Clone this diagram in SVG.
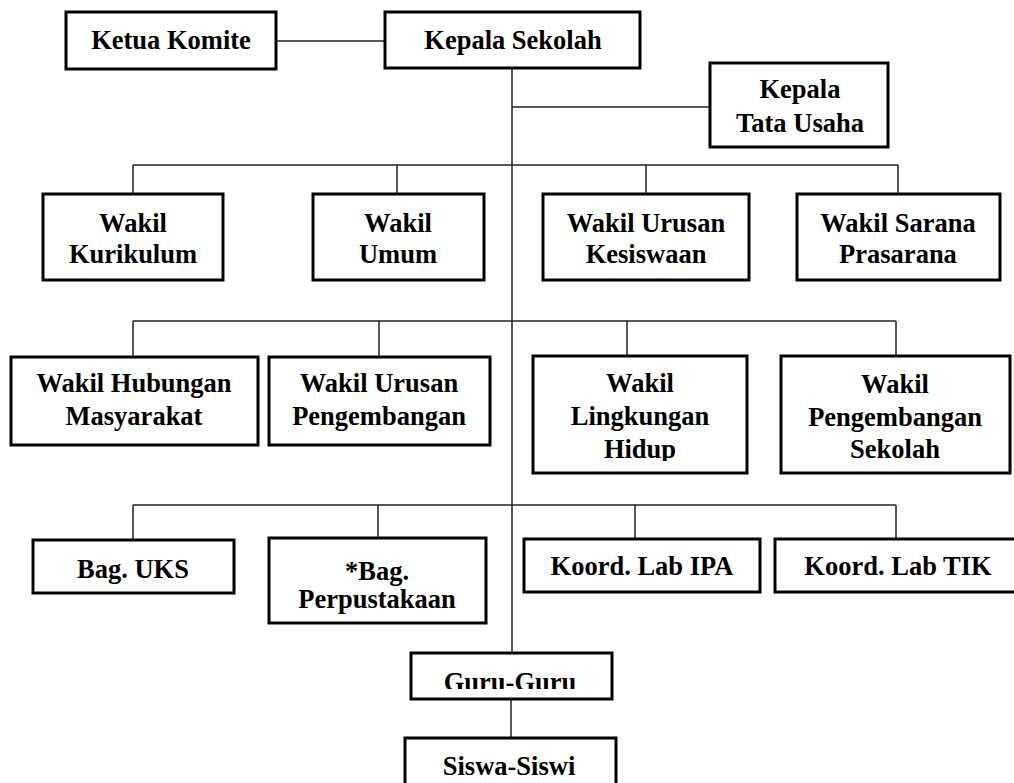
<svg xmlns="http://www.w3.org/2000/svg" width="1014" height="783" viewBox="0 0 1014 783">
  <style>
    .box { fill: #ffffff; stroke: #000000; stroke-width: 3; }
    .lbl { font-family: "Liberation Serif", "Times New Roman", serif; font-weight: bold; font-size: 26.5px; fill: #000000; text-anchor: middle; }
    .ln { stroke: #222222; stroke-width: 1.5; fill: none; }
  </style>
  <defs>
    <clipPath id="clipHidup"><rect x="533" y="356" width="214" height="105"/></clipPath>
    <clipPath id="clipGuru"><rect x="411" y="653" width="201" height="36"/></clipPath>
  </defs>
  <rect x="0" y="0" width="1014" height="783" fill="#ffffff"/>

  <!-- connectors -->
  <g id="connectors">
    <line class="ln" x1="276" y1="41" x2="385" y2="41"/>
    <line class="ln" x1="512" y1="68" x2="512" y2="653"/>
    <line class="ln" x1="512" y1="107" x2="710" y2="107"/>
    <!-- first level bus -->
    <line class="ln" x1="133" y1="165" x2="898" y2="165"/>
    <line class="ln" x1="133" y1="165" x2="133" y2="194"/>
    <line class="ln" x1="397" y1="165" x2="397" y2="194"/>
    <line class="ln" x1="646" y1="165" x2="646" y2="194"/>
    <line class="ln" x1="898" y1="165" x2="898" y2="194"/>
    <!-- second level bus -->
    <line class="ln" x1="133" y1="321" x2="896" y2="321"/>
    <line class="ln" x1="133" y1="321" x2="133" y2="357"/>
    <line class="ln" x1="379" y1="321" x2="379" y2="357"/>
    <line class="ln" x1="627" y1="321" x2="627" y2="356"/>
    <line class="ln" x1="896" y1="321" x2="896" y2="356"/>
    <!-- third level bus -->
    <line class="ln" x1="133" y1="505" x2="896" y2="505"/>
    <line class="ln" x1="133" y1="505" x2="133" y2="540"/>
    <line class="ln" x1="378" y1="505" x2="378" y2="538"/>
    <line class="ln" x1="635" y1="505" x2="635" y2="539"/>
    <line class="ln" x1="896" y1="505" x2="896" y2="539"/>
    <!-- teachers to students -->
    <line class="ln" x1="511" y1="699" x2="511" y2="738"/>
  </g>

  <g id="ketua-komite">
    <rect class="box" x="66" y="12" width="210" height="57"/>
    <text class="lbl" x="171" y="49">Ketua Komite</text>
  </g>
  <g id="kepala-sekolah">
    <rect class="box" x="385" y="12" width="255" height="56"/>
    <text class="lbl" x="513" y="49">Kepala Sekolah</text>
  </g>
  <g id="kepala-tata-usaha">
    <rect class="box" x="710" y="63" width="178" height="84"/>
    <text class="lbl" x="800" y="98">Kepala</text>
    <text class="lbl" x="800" y="132">Tata Usaha</text>
  </g>

  <g id="wakil-kurikulum">
    <rect class="box" x="43" y="194" width="180" height="86"/>
    <text class="lbl" x="133" y="232">Wakil</text>
    <text class="lbl" x="133" y="263">Kurikulum</text>
  </g>
  <g id="wakil-umum">
    <rect class="box" x="313" y="194" width="171" height="86"/>
    <text class="lbl" x="398" y="232">Wakil</text>
    <text class="lbl" x="398" y="263">Umum</text>
  </g>
  <g id="wakil-kesiswaan">
    <rect class="box" x="543" y="194" width="206" height="86"/>
    <text class="lbl" x="646" y="232">Wakil Urusan</text>
    <text class="lbl" x="646" y="263">Kesiswaan</text>
  </g>
  <g id="wakil-sarana">
    <rect class="box" x="797" y="194" width="203" height="86"/>
    <text class="lbl" x="898" y="232">Wakil Sarana</text>
    <text class="lbl" x="898" y="263">Prasarana</text>
  </g>

  <g id="wakil-humas">
    <rect class="box" x="11" y="357" width="247" height="88"/>
    <text class="lbl" x="134" y="392">Wakil Hubungan</text>
    <text class="lbl" x="134" y="425">Masyarakat</text>
  </g>
  <g id="wakil-urusan-pengembangan">
    <rect class="box" x="269" y="357" width="221" height="88"/>
    <text class="lbl" x="379" y="392">Wakil Urusan</text>
    <text class="lbl" x="379" y="425">Pengembangan</text>
  </g>
  <g id="wakil-lingkungan">
    <rect class="box" x="533" y="356" width="214" height="117"/>
    <text class="lbl" x="640" y="392">Wakil</text>
    <text class="lbl" x="640" y="425">Lingkungan</text>
    <text class="lbl" x="640" y="458" clip-path="url(#clipHidup)">Hidup</text>
  </g>
  <g id="wakil-pengembangan-sekolah">
    <rect class="box" x="781" y="356" width="229" height="117"/>
    <text class="lbl" x="895" y="393">Wakil</text>
    <text class="lbl" x="895" y="426">Pengembangan</text>
    <text class="lbl" x="895" y="458">Sekolah</text>
  </g>

  <g id="bag-uks">
    <rect class="box" x="33" y="540" width="201" height="53"/>
    <text class="lbl" x="133" y="578">Bag. UKS</text>
  </g>
  <g id="bag-perpustakaan">
    <rect class="box" x="269" y="538" width="217" height="85"/>
    <text class="lbl" x="377" y="580">*Bag.</text>
    <text class="lbl" x="377" y="608">Perpustakaan</text>
  </g>
  <g id="koord-lab-ipa">
    <rect class="box" x="524" y="539" width="236" height="53"/>
    <text class="lbl" x="642" y="575">Koord. Lab IPA</text>
  </g>
  <g id="koord-lab-tik">
    <rect class="box" x="775" y="539" width="245" height="53"/>
    <text class="lbl" x="898" y="575">Koord. Lab TIK</text>
  </g>

  <g id="guru-guru">
    <rect class="box" x="411" y="653" width="201" height="46"/>
    <text class="lbl" x="510" y="691" clip-path="url(#clipGuru)">Guru-Guru</text>
  </g>
  <g id="siswa-siswi">
    <rect class="box" x="405" y="738" width="211" height="60"/>
    <text class="lbl" x="509" y="775">Siswa-Siswi</text>
  </g>
</svg>
